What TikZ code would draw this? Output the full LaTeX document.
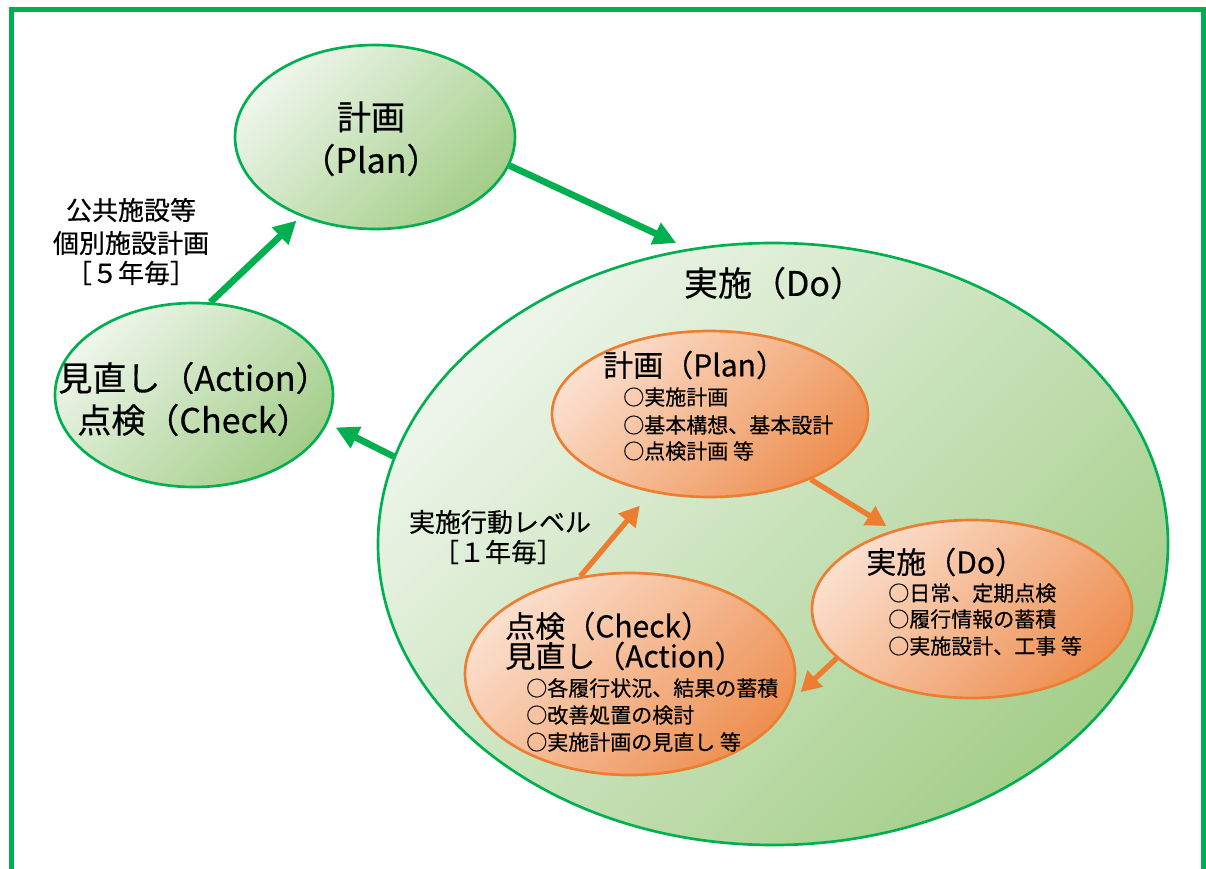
\documentclass[tikz,border=0pt]{standalone}
\usepackage{fontspec}
\setmainfont[FakeBold=0.4]{Noto Sans CJK JP}
\usetikzlibrary{shapes.geometric,arrows.meta}
\definecolor{gline}{HTML}{00B050}
\definecolor{glight}{HTML}{EEF6EB}
\definecolor{gmid}{HTML}{D5E9CB}
\definecolor{gdark}{HTML}{A4CE89}
\definecolor{oline}{HTML}{ED7D31}
\definecolor{olight}{HTML}{FBDFCD}
\definecolor{omid}{HTML}{F7C3A2}
\definecolor{odark}{HTML}{EE9052}
\begin{document}
\begin{tikzpicture}[x=0.75pt,y=-0.75pt,
  gell/.style={ellipse, draw=gline, line width=2pt, top color=glight, middle color=gmid, bottom color=gdark, shading angle=45, inner sep=0pt},
  oell/.style={ellipse, draw=oline, line width=2pt, top color=olight, middle color=omid, bottom color=odark, shading angle=45, inner sep=0pt},
  garrow/.style={draw=gline, line width=5pt, -{Triangle[length=17pt,width=17pt]}},
  oarrow/.style={draw=oline, line width=4pt, -{Triangle[length=15pt,width=16pt]}},
  tbig/.style={font=\fontsize{25.5pt}{30pt}\selectfont, inner sep=0pt},
  tmid/.style={font=\fontsize{19.5pt}{23pt}\selectfont, inner sep=0pt},
  thead/.style={font=\fontsize{22.5pt}{26pt}\selectfont, inner sep=0pt, anchor=west},
  tbul/.style={font=\fontsize{15.75pt}{19pt}\selectfont, inner sep=0pt, anchor=west}]
\useasboundingbox (0,0) rectangle (1206,868);
\clip (0,0) rectangle (1206,868);
\fill[white] (0,0) rectangle (1206,868);
\draw[gline, line width=3.75pt] (11,9) rectangle (1203.5,900);

% ellipses
\node[gell, minimum width=592.5pt, minimum height=451.5pt] (do) at (773,544) {};
\node[gell, minimum width=210pt, minimum height=138pt] (plan) at (375,137) {};
\node[gell, minimum width=208.5pt, minimum height=138pt] (act) at (194,395) {};
\node[oell, minimum width=237pt, minimum height=124.5pt] (iplan) at (710,414) {};
\node[oell, minimum width=240pt, minimum height=133.5pt] (ido) at (972,609) {};
\node[oell, minimum width=247.5pt, minimum height=151.5pt] (icheck) at (630,674) {};

% green arrows
\draw[garrow, shorten >=10pt] (plan.-12) -- (do.106.7);
\draw[garrow, shorten >=4.5pt] (act.80.2) -- (plan.227);
\draw[garrow, shorten >=6.75pt] (do.167.4) -- (act.-12.35);

% orange arrows
\draw[oarrow, shorten >=6pt] (iplan.-33.7) -- (ido.135);
\draw[oarrow, shorten >=11pt] (ido.200.6) -- (icheck.-10.9);
\draw[oarrow, shorten >=13pt] (icheck.117.9) -- (iplan.233.8);

% outer texts
\node[tbig] (planA) at (371,117) {計画};
\node[tbig] (planB) at (371,160) {（Plan）};
\node[tbig] (actA) at (194,378) {見直し（Action）};
\node[tbig] (actB) at (194,420) {点検（Check）};
\node[tbig] (doT) at (774,283) {実施（Do）};
\node[tmid] (l1) at (131,210) {公共施設等};
\node[tmid] (l2) at (131,243) {個別施設計画};
\node[tmid] (l3) at (131,273) {［５年毎］};
\node[tmid] (m1) at (500,522) {実施行動レベル};
\node[tmid] (m2) at (498,552) {［１年毎］};

% inner plan
\node[thead] (ip0) at (603,365) {計画（Plan）};
\node[tbul] (ip1) at (623,397) {○実施計画};
\node[tbul] (ip2) at (623,425) {○基本構想、基本設計};
\node[tbul] (ip3) at (623,451) {○点検計画 等};

% inner do
\node[thead] (id0) at (866,562) {実施（Do）};
\node[tbul] (id1) at (888,593) {○日常、定期点検};
\node[tbul] (id2) at (888,619) {○履行情報の蓄積};
\node[tbul] (id3) at (888,646) {○実施設計、工事 等};

% inner check
\node[thead] (ic0) at (505,626) {点検（Check）};
\node[thead] (ic1) at (505,656) {見直し（Action）};
\node[tbul] (ic2) at (526,688) {○各履行状況、結果の蓄積};
\node[tbul] (ic3) at (526,715) {○改善処置の検討};
\node[tbul] (ic4) at (526,742) {○実施計画の見直し 等};
\end{tikzpicture}
\end{document}
